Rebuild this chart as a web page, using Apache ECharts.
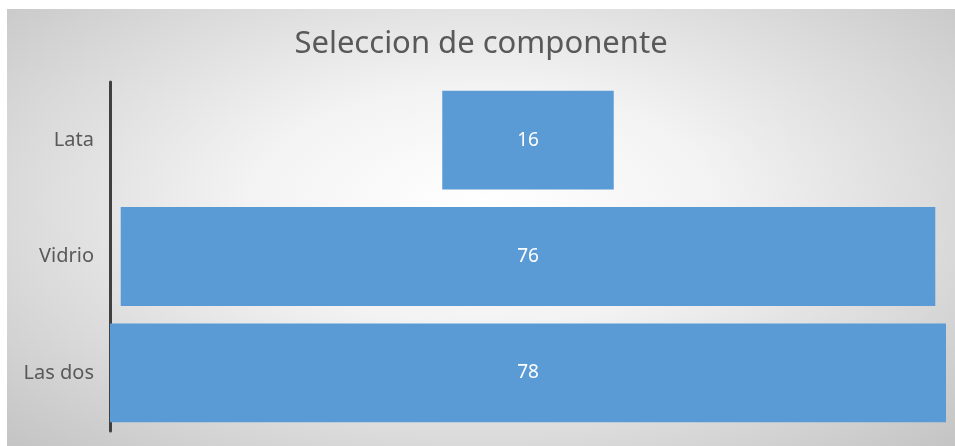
<!DOCTYPE html>
<html>
<head>
<meta charset="utf-8">
<script src="https://cdn.jsdelivr.net/npm/echarts@6/dist/echarts.min.js"></script>
<style>
  html, body { margin: 0; padding: 0; background: #fff; }
  #chart {
    position: absolute;
    left: 7px;
    top: 9px;
    width: 948px;
    height: 437px;
    background: radial-gradient(ellipse at 50% 45%, #ffffff 0%, #f3f3f3 35%, #dadada 70%, #c4c4c4 100%);
  }
</style>
</head>
<body>
<div id="chart"></div>
<script>
// datos del embudo
const categories = ['Lata', 'Vidrio', 'Las dos'];
const values = [16, 76, 78];

const maxValue = Math.max(...values);
// offset invisible para centrar cada barra
const offsets = values.map(v => (maxValue - v) / 2);

const chart = echarts.init(document.getElementById('chart'));
const option = {
  backgroundColor: 'transparent',
  title: {
    text: 'Seleccion de componente',
    left: 'center',
    top: 15,
    textStyle: {
      fontFamily: 'Noto Sans',
      fontSize: 31,
      fontWeight: 'normal',
      color: '#595959'
    }
  },
  grid: {
    left: 103,
    right: 9,
    top: 73,
    bottom: 15
  },
  xAxis: {
    type: 'value',
    min: 0,
    max: maxValue,
    show: false
  },
  yAxis: {
    type: 'category',
    data: categories,
    inverse: true,
    offset: 2,
    axisLine: { lineStyle: { color: '#404040', width: 3 } },
    axisTick: { show: false },
    axisLabel: {
      margin: 14,
      fontFamily: 'Noto Sans',
      fontSize: 20,
      color: '#595959'
    }
  },
  series: [
    {
      type: 'bar',
      stack: 'embudo',
      data: offsets,
      itemStyle: { color: 'transparent' },
      silent: true,
      barCategoryGap: '15%'
    },
    {
      type: 'bar',
      stack: 'embudo',
      data: values,
      barCategoryGap: '15%',
      itemStyle: { color: '#5b9bd5' },
      label: {
        show: true,
        position: 'inside',
        color: '#ffffff',
        fontFamily: 'Noto Sans',
        fontSize: 19
      }
    }
  ]
};
chart.setOption(option);
</script>
</body>
</html>
